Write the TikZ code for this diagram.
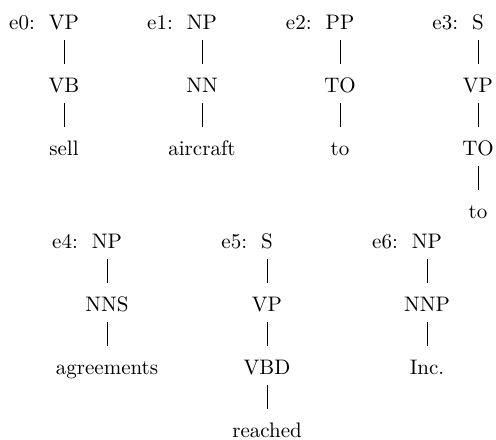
\documentclass[tikz,border=0pt]{standalone}
\begin{document}
\begin{tikzpicture}[x=0.47619pt,y=-0.47619pt,
  t/.style={inner sep=0pt,outer sep=0pt,text height=6.9pt,text depth=0pt,anchor=base},
  lab/.style={inner sep=0pt,outer sep=0pt,anchor=base east},
  edge/.style={draw=black,line width=0.4pt,shorten <=5.2pt,shorten >=6.2pt}]
\useasboundingbox (0,0) rectangle (496,439);
% e0
\node[t] (a0) at (64,29) {VP};
\node[t] (a1) at (64,92) {VB};
\node[t] (a2) at (64,155) {sell};
\node[lab] (la) at ([xshift=-6.7pt]a0.base west) {e0:};
\draw[edge] (a0.south) -- (a1.north);
\draw[edge] (a1.south) -- (a2.north);
% e1
\node[t] (b0) at (202,29) {NP};
\node[t] (b1) at (202,92) {NN};
\node[t] (b2) at (202,155) {aircraft};
\node[lab] (lb) at ([xshift=-6.7pt]b0.base west) {e1:};
\draw[edge] (b0.south) -- (b1.north);
\draw[edge] (b1.south) -- (b2.north);
% e2
\node[t] (c0) at (340,29) {PP};
\node[t] (c1) at (340,92) {TO};
\node[t] (c2) at (340,155) {to};
\node[lab] (lc) at ([xshift=-6.7pt]c0.base west) {e2:};
\draw[edge] (c0.south) -- (c1.north);
\draw[edge] (c1.south) -- (c2.north);
% e3
\node[t] (d0) at (478,29) {S};
\node[t] (d1) at (478,92) {VP};
\node[t] (d2) at (478,155) {TO};
\node[t] (d3) at (478,218) {to};
\node[lab] (ld) at ([xshift=-6.7pt]d0.base west) {e3:};
\draw[edge] (d0.south) -- (d1.north);
\draw[edge] (d1.south) -- (d2.north);
\draw[edge] (d2.south) -- (d3.north);
% e4
\node[t] (f0) at (107,248) {NP};
\node[t] (f1) at (107,311) {NNS};
\node[t] (f2) at (107,374) {agreements};
\node[lab] (lf) at ([xshift=-6.7pt]f0.base west) {e4:};
\draw[edge] (f0.south) -- (f1.north);
\draw[edge] (f1.south) -- (f2.north);
% e5
\node[t] (g0) at (267,248) {S};
\node[t] (g1) at (267,311) {VP};
\node[t] (g2) at (267,374) {VBD};
\node[t] (g3) at (267,437) {reached};
\node[lab] (lg) at ([xshift=-6.7pt]g0.base west) {e5:};
\draw[edge] (g0.south) -- (g1.north);
\draw[edge] (g1.south) -- (g2.north);
\draw[edge] (g2.south) -- (g3.north);
% e6
\node[t] (h0) at (427,248) {NP};
\node[t] (h1) at (427,311) {NNP};
\node[t] (h2) at (427,374) {Inc.};
\node[lab] (lh) at ([xshift=-6.7pt]h0.base west) {e6:};
\draw[edge] (h0.south) -- (h1.north);
\draw[edge] (h1.south) -- (h2.north);
\end{tikzpicture}
\end{document}
